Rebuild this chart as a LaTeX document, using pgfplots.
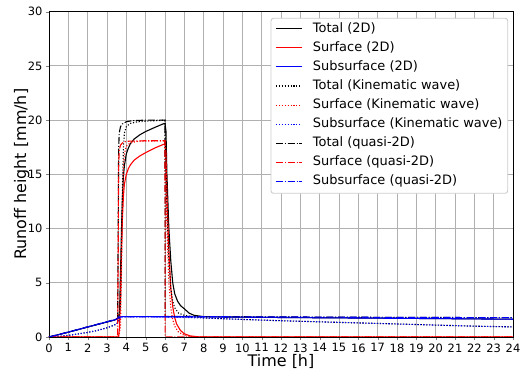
\documentclass[border=0pt]{standalone}
\usepackage{pgfplots}
\pgfplotsset{compat=1.18}
\usepackage{fontspec}
\setmainfont{DejaVu Sans}
\definecolor{gridgray}{HTML}{B0B0B0}
\definecolor{legframe}{HTML}{CCCCCC}
\definecolor{pblue}{HTML}{0000FF}
\definecolor{pred}{HTML}{FF0000}
\definecolor{pblack}{HTML}{000000}
\tikzset{
  lsol/.style={line width=1.1bp, solid},
  ldot/.style={line width=1.1bp, dash pattern=on 1.1bp off 1.8bp},
  ldd/.style={line width=1.1bp, dash pattern=on 7bp off 1.8bp on 1.1bp off 1.8bp},
  ltext/.style={anchor=west, inner sep=0pt, text height=9.6bp, text depth=3bp, font=\fontsize{13}{15}\selectfont}
}
\begin{document}
\begin{tikzpicture}[x=1bp,y=1bp]
\begin{axis}[
  at={(0,0)}, anchor=south west,
  scale only axis, width=464bp, height=325.3bp,
  xmin=0, xmax=24, ymin=0, ymax=30,
  xtick={0,1,...,24}, ytick={0,5,...,30},
  /pgf/number format/assume math mode=true,
  tick label style={font=\fontsize{11.5}{13.5}\selectfont},
  tick align=outside, tick pos=left, major tick length=3bp,
  grid=major, major grid style={gridgray, line width=0.9bp},
  axis line style={line width=0.9bp},
  xlabel={Time [h]}, ylabel={Runoff height [mm/h]},
  label style={font=\fontsize{16}{19}\selectfont},
  xlabel style={at={(axis description cs:0.5,-0.09)}, anchor=base},
  ylabel style={at={(axis description cs:-0.0495,0.5)}, anchor=base, rotate=0},
  every axis plot/.append style={line width=1.1bp},
]
% Total (2D)
\addplot[draw=pblack, lsol] coordinates {(0,0) (0.5,0.22) (1,0.45) (1.5,0.68) (2,0.92) (2.5,1.15) (3,1.38) (3.4,1.57) (3.6,1.8) (3.65,2.5) (3.7,6) (3.75,10) (3.8,13) (3.85,14.8) (3.9,15.8) (4.0,16.9) (4.1,17.4) (4.2,17.8) (4.4,18.25) (4.7,18.65) (5.0,18.95) (5.5,19.35) (5.9,19.65) (6.0,19.7) (6.05,19.0) (6.1,15) (6.2,10) (6.3,7) (6.4,5.0) (6.5,4.0) (6.65,3.3) (6.8,2.9) (7.0,2.6) (7.25,2.2) (7.5,2.0) (8,1.88) (9,1.85) (12,1.8) (16,1.75) (20,1.7) (24,1.64)};
% Surface (2D)
\addplot[draw=pred, lsol] coordinates {(0,0) (3.6,0) (3.65,1) (3.7,4) (3.75,8) (3.8,11) (3.85,13) (3.9,14.1) (4.0,15.0) (4.1,15.5) (4.2,15.85) (4.4,16.3) (4.7,16.7) (5.0,17.0) (5.5,17.45) (5.9,17.75) (6.0,17.8) (6.05,17) (6.1,13) (6.2,8) (6.3,4.5) (6.4,2.8) (6.5,1.8) (6.6,1.2) (6.8,0.6) (7.0,0.3) (7.3,0.1) (7.7,0.02) (8,0) (24,0)};
% Subsurface (2D)
\addplot[draw=pblue, lsol] coordinates {(0,0) (1,0.45) (2,0.93) (3,1.4) (3.5,1.63) (3.6,1.72) (3.7,1.87) (4,1.88) (6,1.87) (8,1.86) (12,1.8) (16,1.75) (20,1.7) (24,1.64)};
% Total (Kinematic wave)
\addplot[draw=pblack, ldot] coordinates {(0,0) (0.5,0.05) (1,0.15) (1.5,0.28) (2,0.42) (2.5,0.6) (3,0.85) (3.3,1.05) (3.5,1.2) (3.6,1.5) (3.7,3) (3.75,8) (3.8,14) (3.85,17.5) (3.9,18.8) (4.0,19.4) (4.2,19.7) (4.6,19.85) (5,19.9) (6,20.0) (6.02,18) (6.1,12) (6.2,7) (6.3,4.5) (6.4,3.3) (6.5,2.7) (6.7,2.2) (7,2.0) (7.5,1.85) (8,1.76) (10,1.62) (12,1.5) (14,1.4) (16,1.3) (18,1.2) (20,1.1) (22,1.0) (24,0.93)};
% Surface (Kinematic wave)
\addplot[draw=pred, ldot] coordinates {(0,0) (3.6,0) (3.7,1) (3.75,6) (3.8,12) (3.85,15.5) (3.9,16.9) (4.0,17.6) (4.2,17.9) (4.6,18.05) (6,18.1) (6.02,16) (6.1,10) (6.2,5) (6.3,2.7) (6.4,1.6) (6.5,1.0) (6.7,0.45) (7,0.15) (7.5,0.02) (8,0) (24,0)};
% Subsurface (Kinematic wave)
\addplot[draw=pblue, ldot] coordinates {(0,0) (0.5,0.05) (1,0.15) (1.5,0.28) (2,0.42) (2.5,0.6) (3,0.85) (3.3,1.05) (3.5,1.2) (3.6,1.5) (3.7,1.85) (6,1.85) (6.5,1.83) (7,1.8) (8,1.75) (10,1.62) (12,1.5) (14,1.4) (16,1.3) (18,1.2) (20,1.1) (22,1.0) (24,0.93)};
% Total (quasi-2D)
\addplot[draw=pblack, ldd] coordinates {(0,0) (1,0.45) (2,0.93) (3,1.4) (3.5,1.65) (3.55,1.7) (3.58,10) (3.6,17) (3.63,18.8) (3.7,19.4) (3.8,19.65) (4.0,19.85) (4.3,19.95) (5,20.0) (6,20.0) (6.01,1.9) (8,1.88) (12,1.85) (16,1.82) (20,1.8) (24,1.78)};
% Surface (quasi-2D)
\addplot[draw=pred, ldd] coordinates {(0,0) (3.55,0) (3.58,8) (3.6,15.5) (3.63,17.2) (3.7,17.7) (3.8,17.9) (4.0,18.05) (5,18.1) (6,18.1) (6.01,0) (24,0)};
% Subsurface (quasi-2D)
\addplot[draw=pblue, ldd] coordinates {(0,0) (1,0.45) (2,0.93) (3,1.4) (3.5,1.65) (3.6,1.85) (6,1.87) (8,1.87) (12,1.85) (16,1.82) (20,1.8) (24,1.78)};
\end{axis}
% legend (axis box spans (0,0)--(464,325.3)); all sample lines drawn before any text
\draw[legframe, fill=white, line width=0.9bp, rounded corners=2.5bp] (222,143.7) rectangle (458.7,318.7);
\foreach \rep in {1,2}{
\draw[pblack, lsol] (227,308.3) -- (253,308.3);
\draw[pred, lsol] (227,289.2) -- (253,289.2);
\draw[pblue, lsol] (227,270.1) -- (253,270.1);
\draw[pblack, ldot] (227,251.0) -- (253,251.0);
\draw[pred, ldot] (227,231.9) -- (253,231.9);
\draw[pblue, ldot] (227,212.8) -- (253,212.8);
\draw[pblack, ldd] (227,193.7) -- (253,193.7);
\draw[pred, ldd] (227,174.6) -- (253,174.6);
\draw[pblue, ldd] (227,155.5) -- (253,155.5);
}
\node[ltext] at (263.7,308.3) {Total (2D)};
\node[ltext] at (263.7,289.2) {Surface (2D)};
\node[ltext] at (263.7,270.1) {Subsurface (2D)};
\node[ltext] at (263.7,251.0) {Total (Kinematic wave)};
\node[ltext] at (263.7,231.9) {Surface (Kinematic wave)};
\node[ltext] at (263.7,212.8) {Subsurface (Kinematic wave)};
\node[ltext] at (263.7,193.7) {Total (quasi-2D)};
\node[ltext] at (263.7,174.6) {Surface (quasi-2D)};
\node[ltext] at (263.7,155.5) {Subsurface (quasi-2D)};
\pgfresetboundingbox
\useasboundingbox (-49bp,-37bp) rectangle (473bp,337bp);
\end{tikzpicture}
\end{document}
